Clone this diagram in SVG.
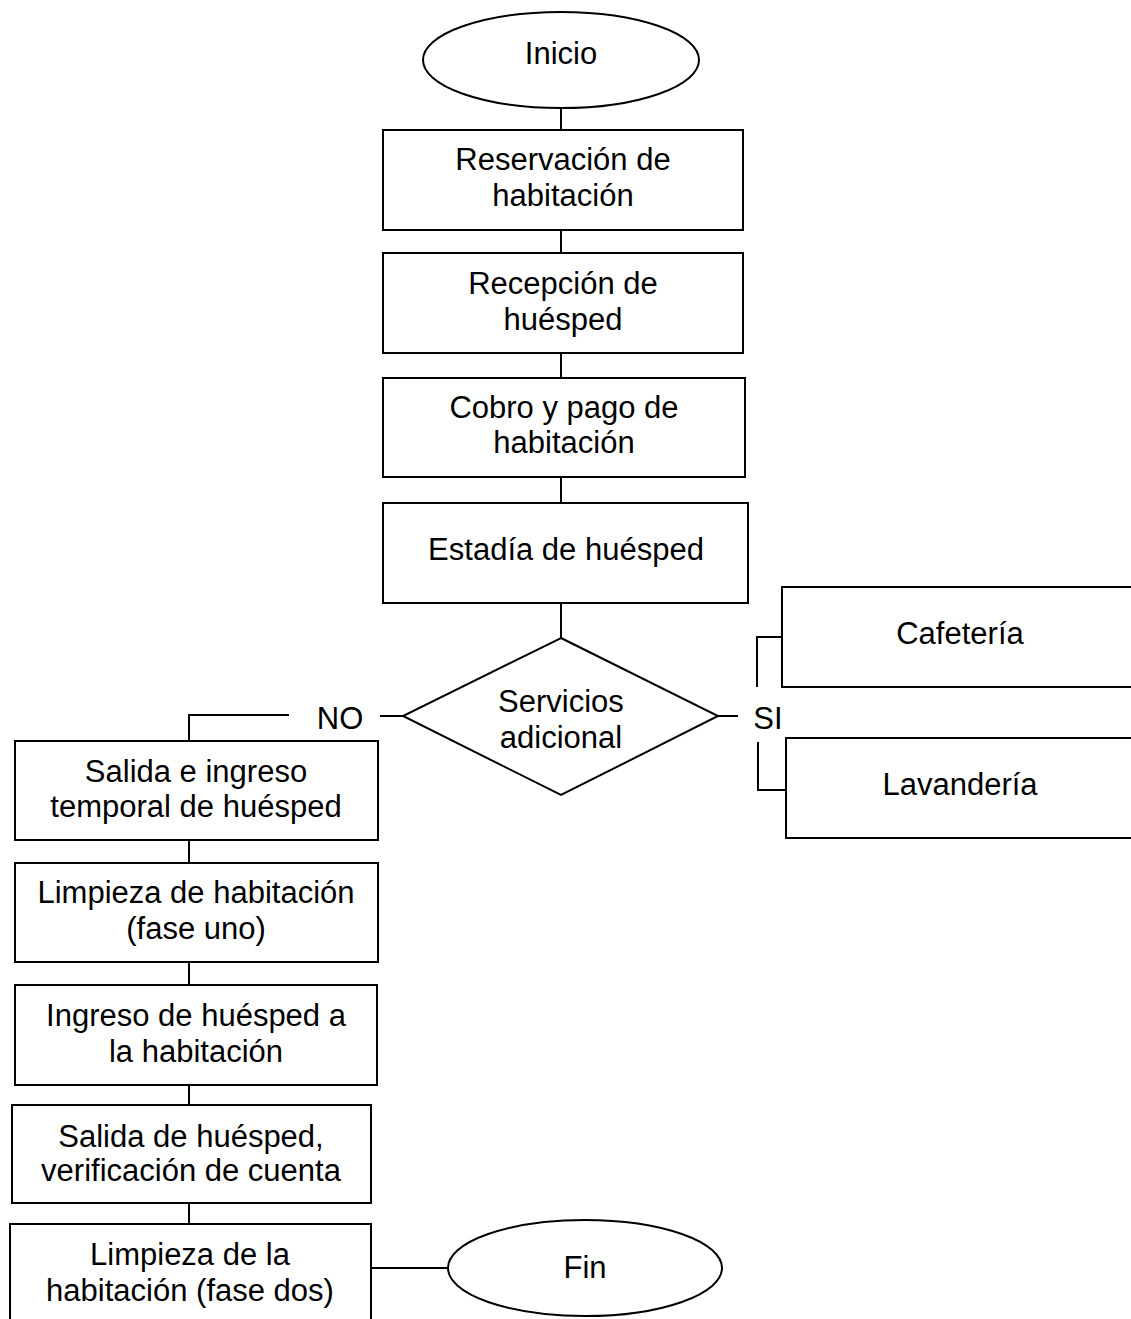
<svg xmlns="http://www.w3.org/2000/svg" width="1131" height="1319" viewBox="0 0 1131 1319">
<style>
.s{fill:#fff;stroke:#000;stroke-width:2}
.c{fill:none;stroke:#000;stroke-width:2}
text{font-family:"Liberation Sans",Arial,sans-serif;font-size:31px;fill:#000;text-anchor:middle}
</style>
<rect width="1131" height="1319" fill="#fff"/>
<g id="connectors">
<path class="c" d="M561 108V130M561 230V253M561 353V378M561 477V503M561 603V638"/>
<path class="c" d="M403 716H380M289 715H189V741"/>
<path class="c" d="M718 716H738M782 637H757V687M758 742V790H786"/>
<path class="c" d="M189 840V863M189 962V985M189 1085V1105M189 1203V1224M371 1268H448"/>
</g>
<g id="inicio"><ellipse class="s" cx="561" cy="60" rx="138" ry="48"/><text x="561" y="64">Inicio</text></g>
<g id="reservacion"><rect class="s" x="383" y="130" width="360" height="100"/><text x="563" y="170">Reservación de</text><text x="563" y="206">habitación</text></g>
<g id="recepcion"><rect class="s" x="383" y="253" width="360" height="100"/><text x="563" y="294">Recepción de</text><text x="563" y="330">huésped</text></g>
<g id="cobro"><rect class="s" x="383" y="378" width="362" height="99"/><text x="564" y="418">Cobro y pago de</text><text x="564" y="453">habitación</text></g>
<g id="estadia"><rect class="s" x="383" y="503" width="365" height="100"/><text x="566" y="560">Estadía de huésped</text></g>
<g id="servicios"><polygon class="s" points="561,638 718,716 561,795 403,716"/><text x="561" y="712">Servicios</text><text x="561" y="748">adicional</text></g>
<g id="label-no"><text x="340" y="729">NO</text></g>
<g id="label-si"><text x="768" y="729">SI</text></g>
<g id="cafeteria"><rect class="s" x="782" y="587" width="360" height="100"/><text x="960" y="644">Cafetería</text></g>
<g id="lavanderia"><rect class="s" x="786" y="738" width="360" height="100"/><text x="960" y="795">Lavandería</text></g>
<g id="salida-ingreso"><rect class="s" x="15" y="741" width="363" height="99"/><text x="196" y="782">Salida e ingreso</text><text x="196" y="817">temporal de huésped</text></g>
<g id="limpieza-uno"><rect class="s" x="15" y="863" width="363" height="99"/><text x="196" y="903">Limpieza de habitación</text><text x="196" y="939">(fase uno)</text></g>
<g id="ingreso"><rect class="s" x="15" y="985" width="362" height="100"/><text x="196" y="1026">Ingreso de huésped a</text><text x="196" y="1062">la habitación</text></g>
<g id="salida-cuenta"><rect class="s" x="12" y="1105" width="359" height="98"/><text x="191" y="1147">Salida de huésped,</text><text x="191" y="1181">verificación de cuenta</text></g>
<g id="limpieza-dos"><rect class="s" x="10" y="1224" width="361" height="110"/><text x="190" y="1265">Limpieza de la</text><text x="190" y="1301">habitación (fase dos)</text></g>
<g id="fin"><ellipse class="s" cx="585" cy="1268" rx="137" ry="48"/><text x="585" y="1278">Fin</text></g>
</svg>
